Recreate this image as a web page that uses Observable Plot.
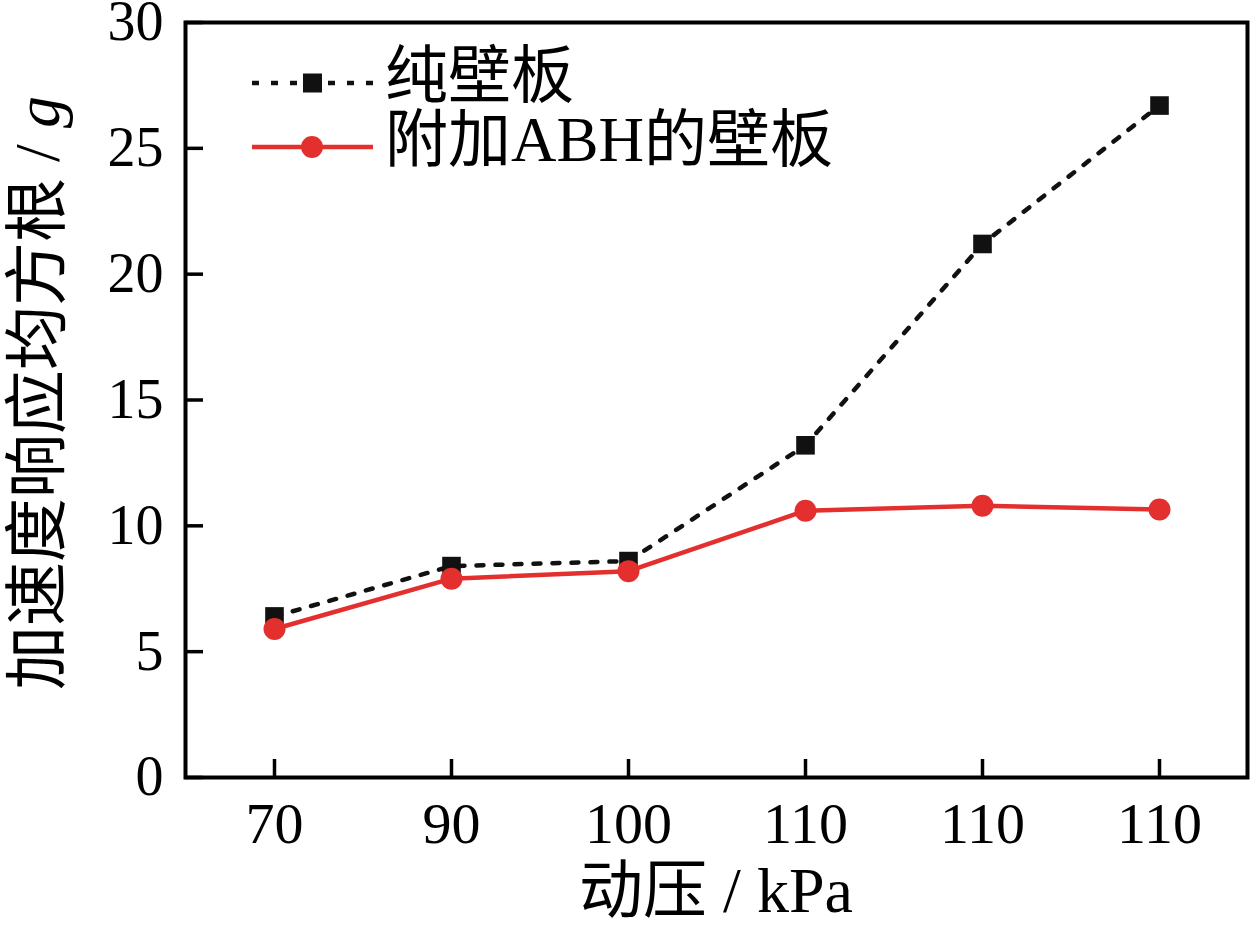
<!DOCTYPE html>
<html>
<head>
<meta charset="utf-8">
<script src="https://cdn.jsdelivr.net/npm/d3@7"></script>
<script src="https://cdn.jsdelivr.net/npm/@observablehq/plot@0.6"></script>
<style>
  html, body { margin: 0; padding: 0; background: #fff; }
  #chart svg { display: block; }
</style>
</head>
<body>
<div id="chart"></div>
<script>
const xLabels = ["70", "90", "100", "110", "110", "110"];
const plainPanel = [6.4, 8.4, 8.6, 13.2, 21.2, 26.7];
const abhPanel = [5.9, 7.9, 8.2, 10.6, 10.8, 10.65];
const yTicks = [0, 5, 10, 15, 20, 25, 30];
const seriesNames = ["纯壁板", "附加ABH的壁板"];

const plain = plainPanel.map((v, i) => ({i, v}));
const abh = abhPanel.map((v, i) => ({i, v}));

const RED = "#e3302f";
const FONT = "'Liberation Serif', 'Times New Roman', 'Noto Sans CJK SC', serif";
const DASH = "7,12";

const plot = Plot.plot({
  width: 1250,
  height: 928,
  marginLeft: 185,
  marginRight: 3,
  marginTop: 22,
  marginBottom: 151,
  style: {fontFamily: FONT, background: "#fff", color: "#000", overflow: "visible"},
  x: {type: "point", domain: d3.range(xLabels.length), padding: 0.5},
  y: {domain: [0, 30]},
  marks: [
    Plot.axisY({ticks: yTicks, tickSize: 18, dx: 18, text: null, strokeWidth: 3.5, label: null}),
    Plot.axisY({ticks: yTicks, tickSize: 0, tickPadding: 22, fontSize: 56, label: null}),
    Plot.axisX({tickSize: 18, dy: -18, text: null, strokeWidth: 3.5, label: null}),
    Plot.axisX({tickSize: 0, tickPadding: 24, fontSize: 58, tickFormat: i => xLabels[i], label: null}),
    Plot.frame({stroke: "#000", strokeWidth: 4}),
    Plot.line(plain, {x: "i", y: "v", stroke: "#111", strokeWidth: 4.5, strokeDasharray: DASH}),
    Plot.line(abh, {x: "i", y: "v", stroke: RED, strokeWidth: 4.5}),
    Plot.dot(plain, {x: "i", y: "v", symbol: "square", r: 10.5, fill: "#111", stroke: "none"}),
    Plot.dot(abh, {x: "i", y: "v", symbol: "circle", r: 11, fill: RED, stroke: "none"})
  ]
});

document.getElementById("chart").appendChild(plot);

const svg = d3.select(plot);

// Axis titles
svg.append("text")
  .attr("x", 716).attr("y", 897)
  .attr("text-anchor", "middle").attr("dominant-baseline", "middle")
  .attr("font-family", FONT).attr("font-size", 64).attr("fill", "#000")
  .text("动压 / kPa");

const yl = svg.append("text")
  .attr("transform", "translate(44,393) rotate(-90)")
  .attr("text-anchor", "middle").attr("dominant-baseline", "middle")
  .attr("font-family", FONT).attr("font-size", 64).attr("fill", "#000");
yl.append("tspan").text("加速度响应均方根 / ");
yl.append("tspan").attr("font-style", "italic").text("g");

// Legend
const lg = svg.append("g");
const rows = [
  {y: 83, stroke: "#111", dash: DASH, sym: "square", color: "#111"},
  {y: 147, stroke: RED, dash: null, sym: "circle", color: RED}
];
rows.forEach((r, k) => {
  const ln = lg.append("line").attr("x1", 252).attr("x2", 373).attr("y1", r.y).attr("y2", r.y)
    .attr("stroke", r.stroke).attr("stroke-width", 4.5);
  if (r.dash) ln.attr("stroke-dasharray", DASH);
  if (r.sym === "square") {
    lg.append("rect").attr("x", 303).attr("y", r.y - 9.5).attr("width", 19).attr("height", 19).attr("fill", r.color);
  } else {
    lg.append("circle").attr("cx", 312).attr("cy", r.y).attr("r", 11).attr("fill", r.color);
  }
  lg.append("text").attr("x", 385).attr("y", r.y)
    .attr("text-anchor", "start")
    .attr("dominant-baseline", "middle")
    .attr("font-family", FONT).attr("font-size", 63).attr("fill", "#000")
    .text(seriesNames[k]);
});
</script>
</body>
</html>
